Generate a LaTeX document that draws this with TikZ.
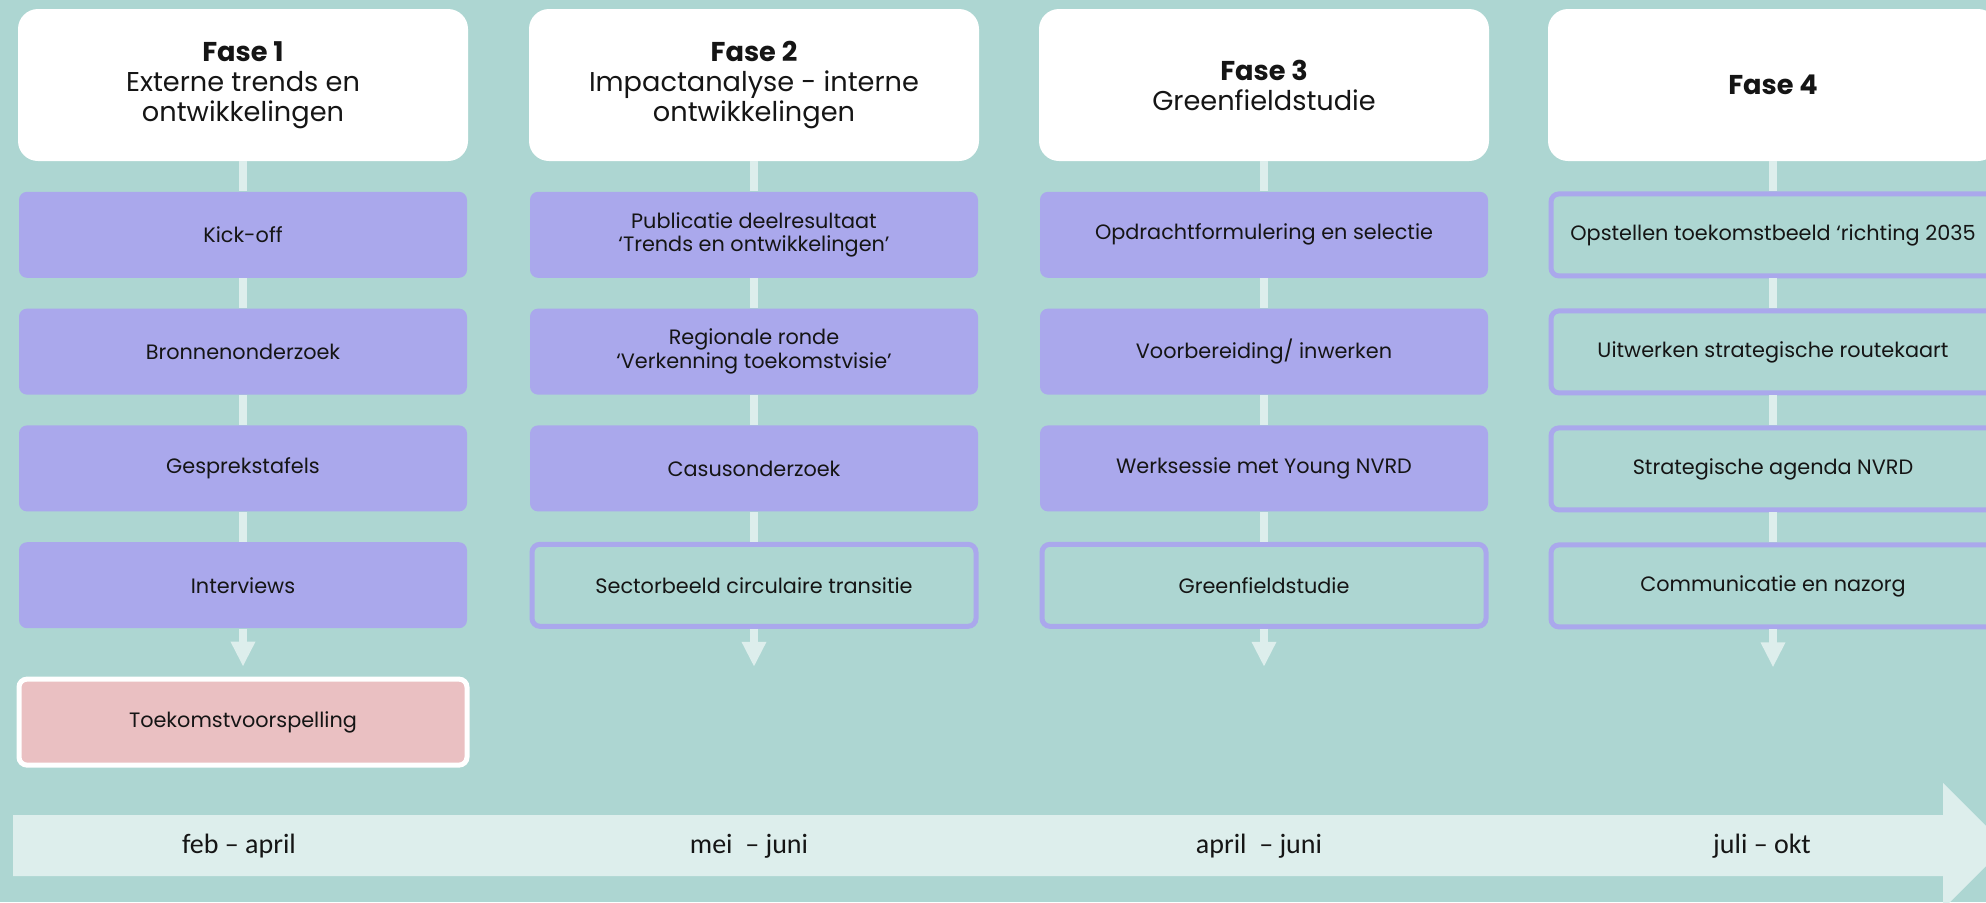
\documentclass[tikz,border=0pt]{standalone}
\usepackage{fontspec}
\setmainfont{Poppins}
\newfontfamily\periodfont{Carlito}
\usepackage{xcolor}
\usepackage{tikz}
\usetikzlibrary{arrows.meta, positioning}

\definecolor{bgteal}{HTML}{ADD6D2}
\definecolor{lilac}{HTML}{AAA8EC}
\definecolor{pale}{HTML}{DDEEEC}
\definecolor{rose}{HTML}{EAC0C2}
\definecolor{ink}{HTML}{151515}

\begin{document}
\begin{tikzpicture}[
x=0.5pt, y=-0.5pt,
node distance=15pt,
phase/.style={rectangle, rounded corners=10pt, fill=white, minimum width=225pt, minimum height=76pt, align=center, text=ink, font=\fontsize{13.6}{15}\selectfont},
task/.style={rectangle, rounded corners=4pt, fill=lilac, minimum width=224pt, minimum height=43pt, align=center, text=ink, font=\fontsize{10.4}{11.8}\selectfont},
taskline/.style={task, fill=bgteal, draw=lilac, line width=2.5pt, minimum width=222pt, minimum height=41pt},
result/.style={task, fill=rose, draw=white, line width=2.5pt, minimum width=224pt, minimum height=43pt},
link/.style={draw=pale, line width=4pt},
period/.style={text=ink, font=\periodfont\fontsize{14}{16}\selectfont}
]
\useasboundingbox (0,0) rectangle (1986,902);
\clip (0,0) rectangle (1986,902);
\fill[bgteal] (0,0) rectangle (1986,902);

% Phases
\node[phase] (fase1) at (243,85) {\textbf{Fase 1}\\Externe trends en\\ontwikkelingen};
\node[phase] (fase2) at (754,85) {\textbf{Fase 2}\\Impactanalyse - interne\\ontwikkelingen};
\node[phase] (fase3) at (1264,85) {\textbf{Fase 3}\\Greenfieldstudie};
\node[phase] (fase4) at (1773,85) {\textbf{Fase 4}};

% Fase 1 steps
\node[task, below=of fase1] (kick) {Kick-off};
\node[task, below=of kick] (bron) {Bronnenonderzoek};
\node[task, below=of bron] (gesprek) {Gesprekstafels};
\node[task, below=of gesprek] (inter) {Interviews};
\coordinate[below=19pt of inter.south] (tip1);
\node[result, below=24pt of inter] (voorspel) {Toekomstvoorspelling};

% Fase 2 steps
\node[task, below=of fase2] (publ) {Publicatie deelresultaat\\‘Trends en ontwikkelingen’};
\node[task, below=of publ] (regio) {Regionale ronde\\‘Verkenning toekomstvisie’};
\node[task, below=of regio] (casus) {Casusonderzoek};
\node[taskline, below=of casus] (sector) {Sectorbeeld circulaire transitie};
\coordinate[below=19pt of sector.south] (tip2);

% Fase 3 steps
\node[task, below=of fase3] (opdracht) {Opdrachtformulering en selectie};
\node[task, below=of opdracht] (voorb) {Voorbereiding/ inwerken};
\node[task, below=of voorb] (werk) {Werksessie met Young NVRD};
\node[taskline, below=of werk] (green) {Greenfieldstudie};
\coordinate[below=19pt of green.south] (tip3);

% Fase 4 steps
\node[taskline, below=of fase4] (opstel) {Opstellen toekomstbeeld ‘richting 2035};
\node[taskline, below=of opstel] (uitwerk) {Uitwerken strategische routekaart};
\node[taskline, below=of uitwerk] (agenda) {Strategische agenda NVRD};
\node[taskline, below=of agenda] (comm) {Communicatie en nazorg};
\coordinate[below=19pt of comm.south] (tip4);

% Connections
\draw[link] (fase1) -- (kick);
\draw[link] (kick) -- (bron);
\draw[link] (bron) -- (gesprek);
\draw[link] (gesprek) -- (inter);
\draw[link, -{Triangle[width=11.5pt, length=12.5pt]}] (inter) -- (tip1);

\draw[link] (fase2) -- (publ);
\draw[link] (publ) -- (regio);
\draw[link] (regio) -- (casus);
\draw[link] (casus) -- (sector);
\draw[link, -{Triangle[width=11.5pt, length=12.5pt]}] (sector) -- (tip2);

\draw[link] (fase3) -- (opdracht);
\draw[link] (opdracht) -- (voorb);
\draw[link] (voorb) -- (werk);
\draw[link] (werk) -- (green);
\draw[link, -{Triangle[width=11.5pt, length=12.5pt]}] (green) -- (tip3);

\draw[link] (fase4) -- (opstel);
\draw[link] (opstel) -- (uitwerk);
\draw[link] (uitwerk) -- (agenda);
\draw[link] (agenda) -- (comm);
\draw[link, -{Triangle[width=11.5pt, length=12.5pt]}] (comm) -- (tip4);

% Timeline
\fill[pale] (13,815) -- (1943,815) -- (1943,783) -- (2006,846) -- (1943,909) -- (1943,876) -- (13,876) -- cycle;
\node[period] (per1) at (239,846) {feb – april};
\node[period] (per2) at (749,846) {mei \ – juni};
\node[period] (per3) at (1259,846) {april \ – juni};
\node[period] (per4) at (1762,846) {juli – okt};

\end{tikzpicture}
\end{document}
